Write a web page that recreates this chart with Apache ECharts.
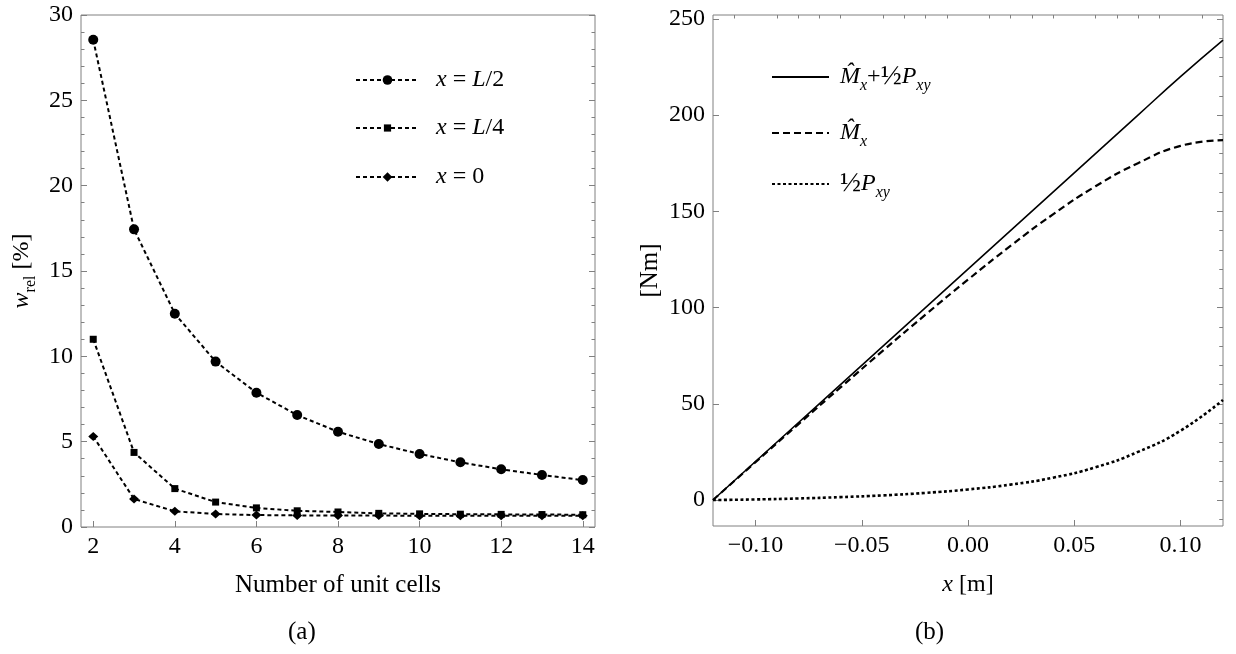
<!DOCTYPE html>
<html>
<head>
<meta charset="utf-8">
<script src="https://cdn.jsdelivr.net/npm/echarts@6/dist/echarts.min.js"></script>
<style>
  html, body { margin: 0; padding: 0; background: #fff; }
  #chart { width: 1236px; height: 654px; }
</style>
</head>
<body>
<div id="chart"></div>
<script>
// --- (a) relative deflection vs number of unit cells ---
const cells = [2, 3, 4, 5, 6, 7, 8, 9, 10, 11, 12, 13, 14];
const wMid = [28.55, 17.44, 12.5, 9.69, 7.87, 6.56, 5.58, 4.86, 4.28, 3.79, 3.38, 3.05, 2.75];
const wQuarter = [11.0, 4.37, 2.25, 1.46, 1.12, 0.95, 0.88, 0.8, 0.77, 0.75, 0.74, 0.73, 0.72];
const wEnd = [5.31, 1.64, 0.92, 0.76, 0.7, 0.68, 0.67, 0.67, 0.66, 0.66, 0.66, 0.66, 0.66];
const cellTicks = [2, 4, 6, 8, 10, 12, 14];

// --- (b) moments along x ---
const xPos = [-0.12, -0.10, -0.08, -0.06, -0.04, -0.02, 0, 0.02, 0.04, 0.06, 0.08, 0.10, 0.12];
const momentSum = [0, 20, 40, 60, 80, 100, 120, 140, 160, 180, 200, 220, 239];
const momentMx = [0, 19.7, 39.2, 58.5, 77.6, 96.3, 114.5, 132, 148.4, 163, 175, 184, 187];
const halfPxy = [0, 0.3, 0.8, 1.5, 2.4, 3.7, 5.5, 8, 11.6, 17, 25, 36, 52];
const xTicks = [-0.10, -0.05, 0, 0.05, 0.10];
const xMinorTicks = [-0.11, -0.09, -0.08, -0.07, -0.06, -0.04, -0.03, -0.02, -0.01,
  0.01, 0.02, 0.03, 0.04, 0.06, 0.07, 0.08, 0.09, 0.11];
const nmTicks = [0, 50, 100, 150, 200, 250];
const nmMinorTicks = [-10, 10, 20, 30, 40, 60, 70, 80, 90, 110, 120, 130, 140,
  160, 170, 180, 190, 210, 220, 230, 240];

const FONT = 'Liberation Serif';
const FRAME = '#808080';
const rich = {
  i: { fontFamily: FONT, fontStyle: 'italic', fontSize: 24, color: '#000', lineHeight: 34, verticalAlign: 'middle' },
  n: { fontFamily: FONT, fontSize: 24, color: '#000', lineHeight: 34, verticalAlign: 'middle' },
  fr: { fontFamily: FONT, fontSize: 28, color: '#000', lineHeight: 34, verticalAlign: 'middle' },
  sub: { fontFamily: FONT, fontStyle: 'italic', fontSize: 16, color: '#000', lineHeight: 34, verticalAlign: 'bottom' },
  subr: { fontFamily: FONT, fontSize: 16, color: '#000', lineHeight: 34, verticalAlign: 'bottom' }
};

const chart = echarts.init(document.getElementById('chart'));

function tickAxis(extra) {
  return Object.assign({
    type: 'value',
    axisLine: { show: false, onZero: false },
    splitLine: { show: false },
    axisTick: { inside: true, length: 6, lineStyle: { color: FRAME } },
    axisLabel: { show: false }
  }, extra);
}

const labelStyle = { fontFamily: FONT, fontSize: 24, color: '#000', margin: 8 };
const legendBase = {
  orient: 'vertical',
  padding: 0,
  itemGap: 0,
  selectedMode: false,
  textStyle: { fontFamily: FONT, fontSize: 24, color: '#000', rich: rich }
};
// line-only legend icons for the curves of (b)
const noMarker = { color: 'rgba(0,0,0,0)', borderWidth: 0 };

const option = {
  animation: false,
  backgroundColor: '#fff',
  grid: [
    { left: 81, top: 15, width: 514, height: 512, show: true, borderColor: FRAME, borderWidth: 1 },
    { left: 713, top: 15, width: 510, height: 511, show: true, borderColor: FRAME, borderWidth: 1 }
  ],
  xAxis: [
    tickAxis({
      gridIndex: 0, min: 1.7, max: 14.3,
      axisTick: { inside: true, length: 6, customValues: cellTicks, lineStyle: { color: FRAME } },
      axisLabel: Object.assign({ show: true, customValues: cellTicks }, labelStyle),
      name: 'Number of unit cells', nameLocation: 'middle', nameGap: 46,
      nameTextStyle: { fontFamily: FONT, fontSize: 25, color: '#000' }
    }),
    tickAxis({
      gridIndex: 1, min: -0.12, max: 0.12,
      axisTick: { inside: true, length: 6, customValues: xTicks, lineStyle: { color: FRAME } },
      axisLabel: Object.assign({
        show: true, customValues: xTicks,
        formatter: v => (v < -1e-9 ? '\u2212' : '') + Math.abs(v).toFixed(2)
      }, labelStyle),
      name: '{i|x}{n| [m]}', nameLocation: 'middle', nameGap: 42,
      nameTextStyle: { fontFamily: FONT, fontSize: 25, color: '#000', rich: rich }
    }),
    tickAxis({
      gridIndex: 1, min: -0.12, max: 0.12,
      axisTick: { inside: true, length: 3.5, customValues: xMinorTicks, lineStyle: { color: FRAME } }
    })
  ],
  yAxis: [
    tickAxis({
      gridIndex: 0, min: 0, max: 30, interval: 5,
      minorTick: { show: true, splitNumber: 5, length: 3.5, lineStyle: { color: FRAME } },
      axisLabel: Object.assign({ show: true }, labelStyle),
      name: '{i|w}{subr|rel}{n| [%]}', nameLocation: 'middle', nameGap: 42, nameRotate: 90,
      nameTextStyle: { fontFamily: FONT, fontSize: 25, color: '#000', rich: rich }
    }),
    tickAxis({
      gridIndex: 0, min: 0, max: 30, interval: 5, position: 'right',
      minorTick: { show: true, splitNumber: 5, length: 3.5, lineStyle: { color: FRAME } }
    }),
    tickAxis({
      gridIndex: 1, min: -13.5, max: 252,
      axisTick: { inside: true, length: 6, customValues: nmTicks, lineStyle: { color: FRAME } },
      axisLabel: Object.assign({ show: true, customValues: nmTicks }, labelStyle),
      name: '[Nm]', nameLocation: 'middle', nameGap: 50, nameRotate: 90,
      nameTextStyle: { fontFamily: FONT, fontSize: 25, color: '#000' }
    }),
    tickAxis({
      gridIndex: 1, min: -13.5, max: 252,
      axisTick: { inside: true, length: 3.5, customValues: nmMinorTicks, lineStyle: { color: FRAME } }
    }),
    tickAxis({
      gridIndex: 1, min: -13.5, max: 252, position: 'right',
      axisTick: { inside: true, length: 6, customValues: nmTicks, lineStyle: { color: FRAME } }
    }),
    tickAxis({
      gridIndex: 1, min: -13.5, max: 252, position: 'right',
      axisTick: { inside: true, length: 3.5, customValues: nmMinorTicks, lineStyle: { color: FRAME } }
    })
  ],
  legend: [
    Object.assign({}, legendBase, { data: ['x = L/2'], left: 355, top: 68, itemWidth: 63, itemHeight: 12,
      formatter: () => '{n|  }{i|x}{n| = }{i|L}{n|/2}' }),
    Object.assign({}, legendBase, { data: ['x = L/4'], left: 355, top: 116, itemWidth: 63, itemHeight: 9,
      formatter: () => '{n|  }{i|x}{n| = }{i|L}{n|/4}' }),
    Object.assign({}, legendBase, { data: ['x = 0'], left: 355, top: 165, itemWidth: 63, itemHeight: 12,
      formatter: () => '{n|  }{i|x}{n| = 0}' }),
    Object.assign({}, legendBase, { data: ['sum'], left: 771, top: 63, itemWidth: 57, itemHeight: 10,
      itemStyle: noMarker,
      formatter: () => '{n| }{i|M\u0302}{sub|x}{n|+}{fr|\u00BD}{i|P}{sub|xy}' }),
    Object.assign({}, legendBase, { data: ['Mx'], left: 771, top: 121, itemWidth: 57, itemHeight: 10,
      itemStyle: noMarker,
      formatter: () => '{n| }{i|M\u0302}{sub|x}' }),
    Object.assign({}, legendBase, { data: ['Pxy'], left: 771, top: 170, itemWidth: 57, itemHeight: 10,
      itemStyle: noMarker,
      formatter: () => '{n| }{fr|\u00BD}{i|P}{sub|xy}' })
  ],
  graphic: [
    { type: 'text', left: 288, top: 620, style: { text: '(a)', font: '25px "Liberation Serif"', fill: '#000' } },
    { type: 'text', left: 915, top: 620, style: { text: '(b)', font: '25px "Liberation Serif"', fill: '#000' } }
  ],
  series: [
    {
      name: 'x = L/2', type: 'line', xAxisIndex: 0, yAxisIndex: 0,
      data: cells.map((c, i) => [c, wMid[i]]),
      symbol: 'circle', symbolSize: 10,
      lineStyle: { color: '#000', width: 2, type: [4, 3] },
      itemStyle: { color: '#000' }
    },
    {
      name: 'x = L/4', type: 'line', xAxisIndex: 0, yAxisIndex: 0,
      data: cells.map((c, i) => [c, wQuarter[i]]),
      symbol: 'rect', symbolSize: 7,
      lineStyle: { color: '#000', width: 2, type: [4, 3] },
      itemStyle: { color: '#000' }
    },
    {
      name: 'x = 0', type: 'line', xAxisIndex: 0, yAxisIndex: 0,
      data: cells.map((c, i) => [c, wEnd[i]]),
      symbol: 'diamond', symbolSize: [10, 9],
      lineStyle: { color: '#000', width: 2, type: [4, 3] },
      itemStyle: { color: '#000' }
    },
    {
      name: 'sum', type: 'line', xAxisIndex: 1, yAxisIndex: 2, smooth: true,
      data: xPos.map((x, i) => [x, momentSum[i]]),
      symbol: 'none',
      lineStyle: { color: '#000', width: 1.6, type: 'solid' },
      itemStyle: { color: '#000' }
    },
    {
      name: 'Mx', type: 'line', xAxisIndex: 1, yAxisIndex: 2, smooth: true,
      data: xPos.map((x, i) => [x, momentMx[i]]),
      symbol: 'none',
      lineStyle: { color: '#000', width: 2.2, type: [7, 4] },
      itemStyle: { color: '#000' }
    },
    {
      name: 'Pxy', type: 'line', xAxisIndex: 1, yAxisIndex: 2, smooth: true,
      data: xPos.map((x, i) => [x, halfPxy[i]]),
      symbol: 'none',
      lineStyle: { color: '#000', width: 2.6, type: [3, 2.5] },
      itemStyle: { color: '#000' }
    }
  ]
};

chart.setOption(option);
window.addEventListener('resize', () => chart.resize());
</script>
</body>
</html>
